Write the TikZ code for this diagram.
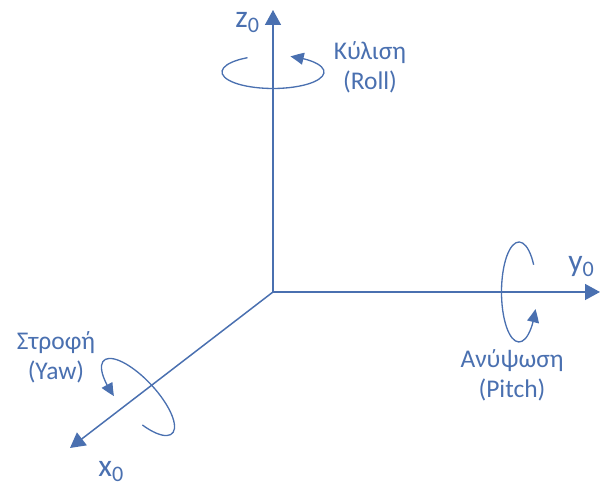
\documentclass[tikz,border=0pt]{standalone}
\usepackage{fontspec}
\setmainfont{Carlito}
\usepackage{tikz}
\usetikzlibrary{arrows.meta,bending}
\definecolor{axblue}{RGB}{74,112,176}

\begin{document}
\begin{tikzpicture}[x=0.02cm,y=0.02cm,
  axis/.style={draw=axblue,line width=0.85pt,-{Triangle[length=0.3cm,width=0.32cm]}},
  rot/.style={draw=axblue,line width=0.75pt,-{Triangle[length=0.26cm,width=0.24cm,bend]}},
  albl/.style={text=axblue,inner sep=0pt,anchor=base west,font=\fontsize{18}{20}\selectfont},
  rlbl/.style={text=axblue,inner sep=0pt,anchor=base,align=center,font=\fontsize{14.5}{17.5}\selectfont}]
  \useasboundingbox (0,0) rectangle (600,486);
  % axes
  \coordinate (o) at (273,194);
  \coordinate (zt) at (273,476);
  \coordinate (yt) at (600,194);
  \coordinate (xt) at (70,38);
  \draw[axis] (o) -- (zt);
  \draw[axis] (o) -- (yt);
  \draw[axis] (o) -- (xt);
  \node[albl] (zl) at (235,458) {z\textsubscript{0}};
  \node[albl] (yl) at (568,214) {y\textsubscript{0}};
  \node[albl] (xl) at (98,9) {x\textsubscript{0}};
  % rotations
  \coordinate (rc) at (273,414);
  \coordinate (pc) at (519,194);
  \coordinate (wc) at (138,89);
  \draw[rot] (rc) ++(120:51 and 16.5) arc[start angle=120,end angle=430,x radius=51,y radius=16.5];
  \draw[rot] (pc) ++(33:17.5 and 50) arc[start angle=33,end angle=340,x radius=17.5,y radius=50];
  \draw[rot,shift={(wc)},rotate=-47] (-62:50 and 18) arc[start angle=-62,end angle=250,x radius=50,y radius=18];
  \node[rlbl] (roll) at (370,396) {Κύλιση\\(Roll)};
  \node[rlbl] (pitch) at (512,88) {Ανύψωση\\(Pitch)};
  \node[rlbl] (yaw) at (56,106) {Στροφή\\(Yaw)};
\end{tikzpicture}
\end{document}
